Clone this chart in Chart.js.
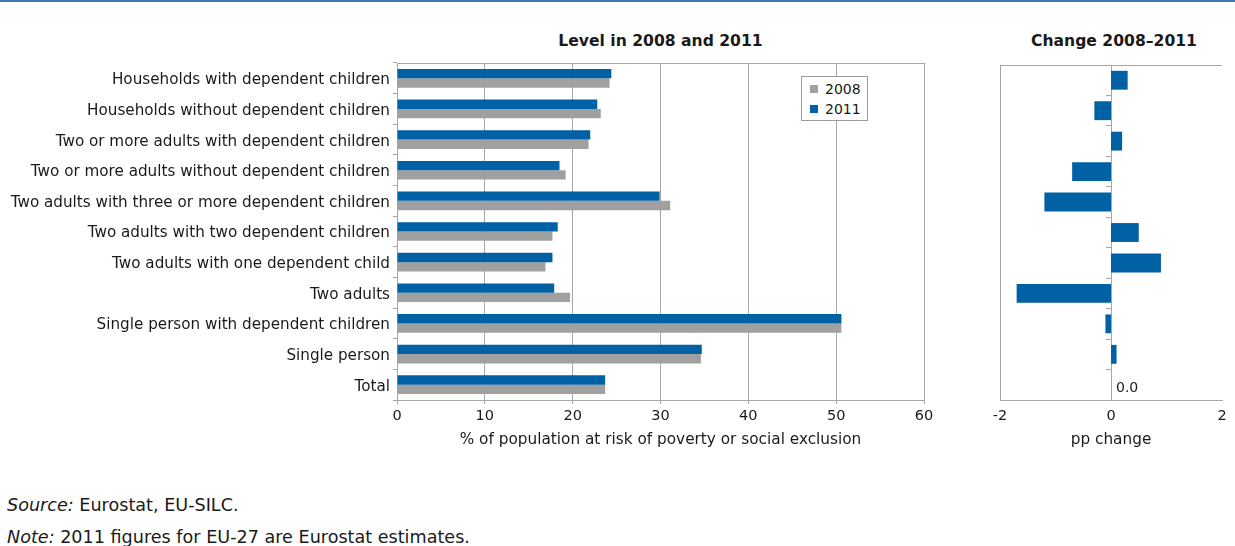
<!DOCTYPE html>
<html>
<head>
<meta charset="utf-8">
<script src="https://cdn.jsdelivr.net/npm/chart.js@4.4.1/dist/chart.umd.min.js"></script>
<style>
    body { margin: 0; width: 1235px; height: 546px; background: #fff; position: relative; overflow: hidden; font-family: "DejaVu Sans", sans-serif; color: #1a1a1a; }
    .linha-topo { position: absolute; left: 0; top: 0; width: 1235px; height: 2px; background: #3f79b3; }
    .titulo { position: absolute; top: 31px; font-weight: bold; font-size: 15.6px; line-height: 20px; text-align: center; }
    #area-nivel { position: absolute; left: 0; top: 0; width: 940px; height: 460px; }
    #area-variacao { position: absolute; left: 940px; top: 0; width: 295px; height: 460px; }
    .legenda { position: absolute; left: 801px; top: 76px; width: 65px; height: 43px; border: 1px solid #9a9a9a; background: #fff; font-size: 14px; }
    .legenda div { position: absolute; left: 8px; height: 20px; line-height: 20px; }
    .legenda span { display: inline-block; width: 8px; height: 8px; margin-right: 7px; vertical-align: 1px; }
    .nota { position: absolute; left: 7px; font-size: 17.6px; line-height: 20px; }
</style>
</head>
<body>
<div class="linha-topo"></div>
<div class="titulo" style="left:397px;width:527px">Level in 2008 and 2011</div>
<div class="titulo" style="left:1000px;width:228px">Change 2008–2011</div>
<div id="area-nivel"><canvas id="grafico-nivel"></canvas></div>
<div id="area-variacao"><canvas id="grafico-variacao"></canvas></div>
<div class="legenda">
    <div style="top:2px"><span style="background:#a0a0a0"></span>2008</div>
    <div style="top:22px"><span style="background:#0061a5"></span>2011</div>
</div>
<div class="nota" style="top:495px"><i>Source:</i> Eurostat, EU-SILC.</div>
<div class="nota" style="top:527px"><i>Note:</i> 2011 figures for EU-27 are Eurostat estimates.</div>
<script>
const categorias = [
    'Households with dependent children',
    'Households without dependent children',
    'Two or more adults with dependent children',
    'Two or more adults without dependent children',
    'Two adults with three or more dependent children',
    'Two adults with two dependent children',
    'Two adults with one dependent child',
    'Two adults',
    'Single person with dependent children',
    'Single person',
    'Total'
];
const valores2008 = [24.2, 23.2, 21.8, 19.2, 31.1, 17.7, 16.9, 19.7, 50.6, 34.6, 23.7];
const valores2011 = [24.4, 22.8, 22.0, 18.5, 29.9, 18.3, 17.7, 17.9, 50.6, 34.7, 23.7];
const variacao = [0.3, -0.3, 0.2, -0.7, -1.2, 0.5, 0.9, -1.7, -0.1, 0.1, 0.0];
const ticksNivel = [0, 10, 20, 30, 40, 50, 60];
const ticksVariacao = [-2, 0, 2];

const COR_2008 = '#a0a0a0';
const COR_2011 = '#0061a5';
const COR_GRADE = '#a6a6a6';
const COR_TEXTO = '#1a1a1a';
const FONTE = '"DejaVu Sans", sans-serif';

// linhas da moldura que o Chart.js nao desenha sozinho
const moldura = {
    id: 'moldura',
    beforeDatasetsDraw(chart, args, opts) {
        const { ctx, chartArea: a } = chart;
        ctx.save();
        ctx.strokeStyle = COR_GRADE;
        ctx.lineWidth = 1;
        ctx.beginPath();
        ctx.moveTo(a.left, Math.round(a.top) + 0.5);
        ctx.lineTo(a.right, Math.round(a.top) + 0.5);
        if (opts.esquerda) {
            ctx.moveTo(Math.round(a.left) + 0.5, a.top);
            ctx.lineTo(Math.round(a.left) + 0.5, a.bottom);
        }
        ctx.stroke();
        ctx.restore();
    }
};

// rotulo "0.0" para a barra sem variacao
const rotuloZero = {
    id: 'rotuloZero',
    afterDatasetsDraw(chart) {
        const { ctx } = chart;
        const meta = chart.getDatasetMeta(0);
        const x0 = chart.scales.x.getPixelForValue(0);
        ctx.save();
        ctx.font = '14px ' + FONTE;
        ctx.fillStyle = COR_TEXTO;
        ctx.textBaseline = 'middle';
        variacao.forEach((valor, i) => {
            if (valor === 0) ctx.fillText(valor.toFixed(1), x0 + 5, meta.data[i].y + 4);
        });
        ctx.restore();
    }
};

function eixoX(min, max, valoresTicks, titulo, extras = {}) {
    return {
        type: 'linear',
        min, max,
        afterBuildTicks: escala => { escala.ticks = valoresTicks.map(v => ({ value: v })); },
        afterFit: escala => { escala.height = 60; },
        border: { display: true, color: COR_GRADE },
        grid: { color: COR_GRADE, tickLength: 4, ...(extras.grid || {}) },
        ticks: { color: COR_TEXTO, font: { family: FONTE, size: 14.5 }, padding: 4, maxRotation: 0 },
        title: { display: true, text: titulo, color: COR_TEXTO, font: { family: FONTE, size: 15.3 }, padding: { top: 2, bottom: 11 } }
    };
}

new Chart(document.getElementById('grafico-nivel'), {
    type: 'bar',
    data: {
        labels: categorias,
        datasets: [
            { label: '2011', data: valores2011, backgroundColor: COR_2011, borderWidth: 0 },
            { label: '2008', data: valores2008, backgroundColor: COR_2008, borderWidth: 0 }
        ]
    },
    options: {
        indexAxis: 'y',
        responsive: true,
        maintainAspectRatio: false,
        animation: false,
        categoryPercentage: 0.61,
        barPercentage: 1,
        layout: { padding: { top: 63, right: 16, bottom: 0, left: 0 } },
        plugins: { legend: { display: false }, tooltip: { enabled: false }, moldura: { esquerda: false } },
        scales: {
            x: eixoX(0, 60, ticksNivel, '% of population at risk of poverty or social exclusion'),
            y: {
                afterFit: escala => { escala.width = 397; },
                border: { display: true, color: COR_GRADE },
                grid: { drawOnChartArea: false, color: COR_GRADE, tickLength: 4 },
                ticks: { color: COR_TEXTO, font: { family: FONTE, size: 15.2 }, padding: 3, labelOffset: 2, autoSkip: false }
            }
        }
    },
    plugins: [moldura]
});

new Chart(document.getElementById('grafico-variacao'), {
    type: 'bar',
    data: {
        labels: categorias,
        datasets: [
            { label: 'Change 2008–2011', data: variacao, backgroundColor: COR_2011, borderWidth: 0 }
        ]
    },
    options: {
        indexAxis: 'y',
        responsive: true,
        maintainAspectRatio: false,
        animation: false,
        categoryPercentage: 0.62,
        barPercentage: 1,
        layout: { padding: { top: 65, right: 13, bottom: 0, left: 60 } },
        plugins: { legend: { display: false }, tooltip: { enabled: false }, moldura: { esquerda: true } },
        scales: {
            x: eixoX(-2, 2, ticksVariacao, 'pp change', { grid: { display: false } }),
            y: {
                position: { x: 0 },
                afterFit: escala => { escala.width = 0; },
                border: { display: true, color: COR_GRADE },
                grid: { drawOnChartArea: false, color: COR_GRADE, tickLength: 5 },
                ticks: { display: false }
            }
        }
    },
    plugins: [moldura, rotuloZero]
});
</script>
</body>
</html>
